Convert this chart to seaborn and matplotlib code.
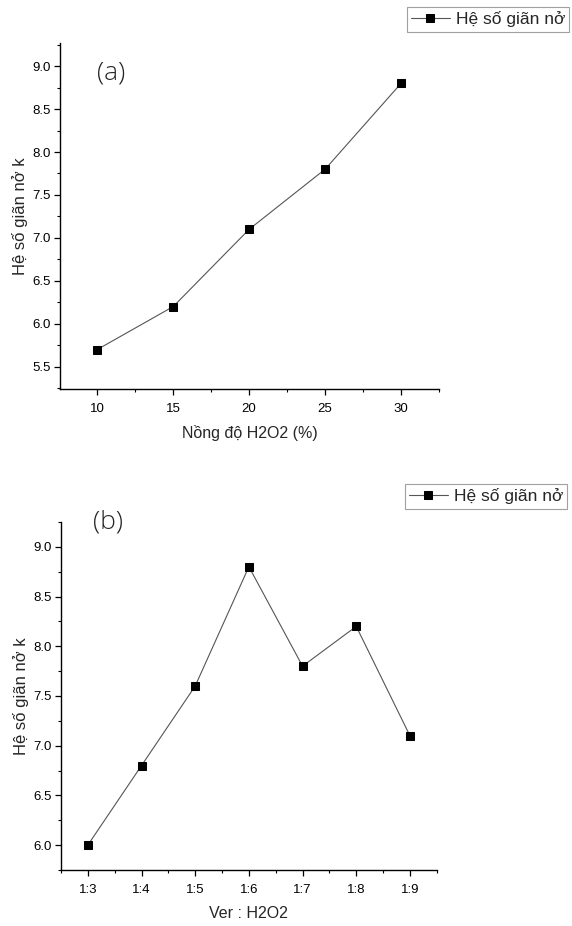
import matplotlib
matplotlib.use('Agg')
import matplotlib.pyplot as plt
from matplotlib.ticker import MultipleLocator, FixedLocator
import numpy as np
import pandas as pd
import seaborn as sns

# ── Data ──────────────────────────────────────────────────────────────────────
conc_h2o2 = [10, 15, 20, 25, 30]
k_conc    = [5.7, 6.2, 7.1, 7.8, 8.8]

ratio_labels = ['1:3', '1:4', '1:5', '1:6', '1:7', '1:8', '1:9']
k_ratio      = [6.0, 6.8, 7.6, 8.8, 7.8, 8.2, 7.1]

SERIES = 'Hệ số giãn nở'
YLABEL = 'Hệ số giãn nở k'

sns.set_style('ticks')
plt.rcParams['font.family'] = ['Liberation Sans', 'DejaVu Sans']

fig = plt.figure(figsize=(5.72, 9.26), dpi=100)
ax_a = fig.add_axes([0.105, 0.5799, 0.6626, 0.3737])
ax_b = fig.add_axes([0.1066, 0.0605, 0.657, 0.3758])

df_a = pd.DataFrame({'x': conc_h2o2, 'y': k_conc})
df_b = pd.DataFrame({'x': np.arange(len(ratio_labels)), 'y': k_ratio})

line_kw = dict(color='#555555', linewidth=0.8, marker='s', markersize=6,
               markerfacecolor='black', markeredgecolor='black')

sns.lineplot(data=df_a, x='x', y='y', ax=ax_a, label=SERIES, legend=False, **line_kw)
sns.lineplot(data=df_b, x='x', y='y', ax=ax_b, label=SERIES, legend=False, **line_kw)


def style_axes(ax):
    sns.despine(ax=ax)
    for s in ('left', 'bottom'):
        ax.spines[s].set_linewidth(1.0)
        ax.spines[s].set_color('black')
    ax.tick_params(which='major', direction='out', length=4, width=0.9,
                   labelsize=9.5, colors='black', pad=3)
    ax.tick_params(axis='x', which='major', pad=6)
    ax.tick_params(which='minor', direction='out', length=2.5, width=0.8, colors='black')


# panel (a)
ax_a.set_xlim(7.55, 32.5)
ax_a.set_ylim(5.24, 9.27)
ax_a.xaxis.set_major_locator(MultipleLocator(5))
ax_a.xaxis.set_minor_locator(MultipleLocator(2.5))
ax_a.yaxis.set_major_locator(MultipleLocator(0.5))
ax_a.yaxis.set_minor_locator(MultipleLocator(0.25))
ax_a.yaxis.set_major_formatter(plt.FormatStrFormatter('%.1f'))
ax_a.set_xlabel('Nồng độ H2O2 (%)', fontsize=11.5, labelpad=7)
ax_a.set_ylabel(YLABEL, fontsize=12, labelpad=3)
style_axes(ax_a)
ax_a.text(0.098, 0.913, '(a)', transform=ax_a.transAxes, fontsize=19,
          family=['Open Sans', 'DejaVu Sans'], fontweight='light', va='center')

# panel (b)
ax_b.set_xlim(-0.5, 6.5)
ax_b.set_ylim(5.75, 9.25)
ax_b.set_xticks(range(len(ratio_labels)))
ax_b.set_xticklabels(ratio_labels)
ax_b.xaxis.set_minor_locator(FixedLocator(np.arange(-0.5, 6.6, 0.5)))
ax_b.yaxis.set_major_locator(MultipleLocator(0.5))
ax_b.yaxis.set_minor_locator(MultipleLocator(0.25))
ax_b.yaxis.set_major_formatter(plt.FormatStrFormatter('%.1f'))
ax_b.set_xlabel('Ver : H2O2', fontsize=11.5, labelpad=7)
ax_b.set_ylabel(YLABEL, fontsize=12, labelpad=3)
style_axes(ax_b)
ax_b.text(0.085, 1.0, '(b)', transform=ax_b.transAxes, fontsize=19,
          family=['Open Sans', 'DejaVu Sans'], fontweight='light', va='center')

# legends sitting above each panel, in the top-right corner
for ax, x0, y0 in ((ax_a, 407, 7), (ax_b, 405, 484)):
    h, l = ax.get_legend_handles_labels()
    leg = fig.legend(h, l, loc='upper left', bbox_to_anchor=(x0 / 572, 1 - y0 / 926),
                     fontsize=12.5, frameon=True, fancybox=False, handlelength=2.2,
                     borderpad=0.25, borderaxespad=0, handletextpad=0.35,
                     markerscale=0.9)
    leg.get_frame().set_edgecolor('#888888')
    leg.get_frame().set_linewidth(0.8)

fig.savefig('out.png', dpi=100)
